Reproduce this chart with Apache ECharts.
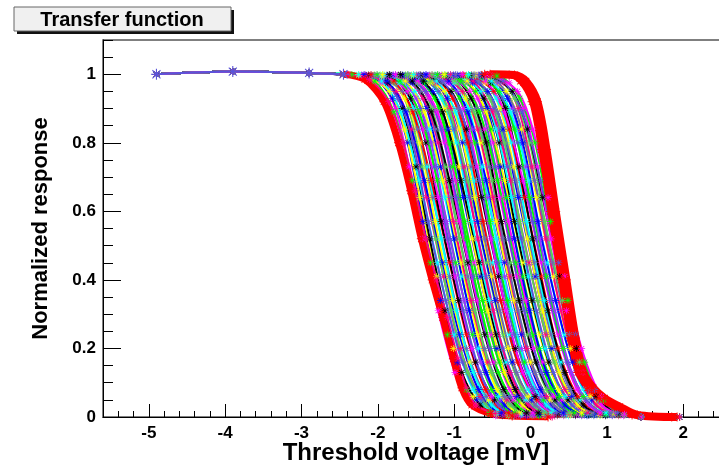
<!DOCTYPE html>
<html>
<head>
<meta charset="utf-8">
<title>Transfer function</title>
<script src="https://cdn.jsdelivr.net/npm/echarts@6/dist/echarts.min.js"></script>
<style>
  html, body { margin: 0; padding: 0; background: #fff; }
  #chart { width: 719px; height: 468px; }
</style>
</head>
<body>
<div id="chart"></div>
<script>
// tick labels
var xTicks = [-5, -4, -3, -2, -1, 0, 1, 2];
var yTicks = [0, 0.2, 0.4, 0.6, 0.8, 1];

// flat part of the scan (same for all channels)
var leadX = [-4.9, -3.9, -2.9, -2.45];
var leadY = [1.0, 1.008, 1.004, 1.0];
// zero tail of the scan
var tailX = [1.45, 1.95];
var tailY = [0, 0];

// response shapes around the 50% point (offsets in mV)
var shapeDxA = [-0.8, -0.55, -0.36, -0.18, 0, 0.2, 0.42, 0.66, 0.95];
var shapeYA = [0.998, 0.975, 0.9, 0.73, 0.52, 0.31, 0.13, 0.035, 0.004];
var shapeDxB = [-0.9, -0.5, -0.3, -0.1, 0.12, 0.34, 0.6, 0.9];
var shapeYB = [0.998, 0.95, 0.84, 0.64, 0.41, 0.2, 0.06, 0.008];
var shapeDxC = [-0.75, -0.45, -0.25, -0.05, 0.18, 0.4, 0.65, 0.92];
var shapeYC = [0.995, 0.93, 0.8, 0.57, 0.34, 0.16, 0.05, 0.006];
var shapeDxD = [-0.95, -0.65, -0.4, -0.16, 0.08, 0.3, 0.55, 0.85];
var shapeYD = [0.999, 0.98, 0.89, 0.69, 0.45, 0.24, 0.08, 0.012];

// 50% points of the channels [mV]
var midpoints = [
  -1.41, -1.39, -1.36, -1.35, -1.32, -1.30, -1.29, -1.26, -1.24, -1.23,
  -1.20, -1.18, -1.17, -1.14, -1.12, -1.11, -1.08, -1.06, -1.05, -1.02,
  -1.00, -0.99, -0.96, -0.94, -0.93, -0.90, -0.88, -0.87, -0.84, -0.82,
  -0.81, -0.78, -0.76, -0.75, -0.72, -0.70, -0.69, -0.66, -0.64, -0.63,
  -0.60, -0.58, -0.57, -0.54, -0.52, -0.51, -0.48, -0.46, -0.45, -0.42,
  -0.40, -0.39, -0.36, -0.34, -0.33, -0.30, -0.28, -0.27, -0.24, -0.22,
  -0.21, -0.18, -0.16, -0.15, -0.12, -0.10, -0.09, -0.06, -0.04, -0.03,
  0.00, 0.02, 0.03, 0.06, 0.08, 0.09, 0.12, 0.14, 0.15, 0.18,
  0.20, 0.21, 0.24, 0.26, 0.27, 0.29, 0.31, 0.33
];

// outermost channels (red envelopes), read point by point
var leftEdgeX = [-2.48, -2.2, -1.95, -1.76, -1.6, -1.46, -1.32, -1.18, -1.04, -0.93, -0.8, -0.55, -0.27, 0.2];
var leftEdgeY = [1.0, 0.985, 0.92, 0.8, 0.66, 0.52, 0.4, 0.29, 0.17, 0.085, 0.035, 0.01, 0.003, 0];
var rightEdgeX = [-0.5, -0.18, -0.03, 0.12, 0.24, 0.36, 0.5, 0.62, 0.72, 0.85, 1.0, 1.2, 1.43, 1.95];
var rightEdgeY = [1.0, 0.998, 0.98, 0.92, 0.78, 0.6, 0.4, 0.23, 0.13, 0.085, 0.055, 0.03, 0.006, 0];

var colors = ['#ff00ff', '#00ff00', '#0000ff', '#ffff00', '#000000', '#00ffff', '#5954d9',
  '#ff0080', '#59d454', '#0000ff', '#ffff00', '#6a6ab0', '#00ffff', '#ff0000', '#000000',
  '#ff00ff', '#5954d9', '#00ff00', '#9933ff', '#00ffff', '#0000ff', '#ffff00', '#ff0080',
  '#6a6ab0', '#59d454', '#000000', '#ff00ff', '#5954d9', '#00ff00'];

var asterisk = 'path://M0,9 L20,9 L20,11 L0,11 Z M9,0 L11,0 L11,20 L9,20 Z ' +
  'M2,3.4 L3.4,2 L18,16.6 L16.6,18 Z M16.6,2 L18,3.4 L3.4,18 L2,16.6 Z';

var FONT = 'Liberation Sans, Arial, Helvetica, sans-serif';
var shapes = [[shapeDxA, shapeYA], [shapeDxB, shapeYB], [shapeDxC, shapeYC], [shapeDxD, shapeYD]];

function curvePoints(mid, shape) {
  var dxs = shape[0], ys = shape[1];
  var pts = [];
  var first = mid + dxs[0];
  var last = mid + dxs[dxs.length - 1];
  leadX.forEach(function (x, i) {
    if (x < first - 0.2) pts.push([x, leadY[i]]);
  });
  dxs.forEach(function (dx, i) {
    pts.push([Math.round((mid + dx) * 1000) / 1000, ys[i]]);
  });
  tailX.forEach(function (x, i) {
    if (x > last + 0.2) pts.push([x, tailY[i]]);
  });
  return pts;
}

function makeSeries(points, color, width, size) {
  return {
    type: 'line',
    xAxisIndex: 0,
    yAxisIndex: 0,
    data: points,
    smooth: 0.3,
    symbol: asterisk,
    symbolSize: size,
    showSymbol: true,
    lineStyle: { color: color, width: width },
    itemStyle: { color: color },
    silent: true,
    animation: false
  };
}

function zip(xs, ys, shift) {
  return xs.map(function (x, i) { return [Math.round((x + shift) * 1000) / 1000, ys[i]]; });
}

var series = [];
midpoints.forEach(function (m, i) {
  var shape = shapes[(i * 3) % shapes.length];
  series.push(makeSeries(curvePoints(m, shape), colors[i % colors.length], 2, 7));
});
// red envelopes on top of the band
series.push(makeSeries(zip(rightEdgeX, rightEdgeY, -0.03), '#ff0000', 8, 9));
series.push(makeSeries(zip(rightEdgeX, rightEdgeY, -0.1), '#ff0000', 6, 9));
series.push(makeSeries(zip(leftEdgeX, leftEdgeY, 0.03), '#ff0000', 7, 9));
series.push(makeSeries(zip(leftEdgeX, leftEdgeY, 0.09), '#ff0080', 2, 7));
// common flat start of the scan, slate blue stars on top
series.push(makeSeries(zip(leadX, leadY, 0), '#5954d9', 2, 11));

var chart = echarts.init(document.getElementById('chart'), null, { renderer: 'canvas' });
chart.setOption({
  animation: false,
  backgroundColor: '#fff',
  grid: {
    left: 103, top: 40, width: 626, height: 377,
    outerBoundsMode: 'none', containLabel: false,
    show: true, borderColor: '#555', borderWidth: 1.5, backgroundColor: 'transparent'
  },
  xAxis: [{
    type: 'value', min: -5.6, max: 2.6,
    name: 'Threshold voltage [mV]', nameLocation: 'middle', nameGap: 24, nameMoveOverlap: false,
    nameTextStyle: { fontFamily: FONT, fontWeight: 'bold', fontSize: 24, color: '#000' },
    axisLine: { show: true, onZero: false, lineStyle: { color: '#000', width: 1 } },
    axisTick: { show: true, inside: true, length: 13, customValues: xTicks, lineStyle: { color: '#000' } },
    axisLabel: { show: true, customValues: xTicks, margin: 8, fontFamily: FONT, fontWeight: 'bold', fontSize: 17, color: '#000' },
    splitLine: { show: false }
  }, {
    type: 'value', min: -5.6, max: 2.6, interval: 0.2, position: 'bottom',
    axisLine: { show: false, onZero: false },
    axisTick: { show: true, inside: true, length: 6, lineStyle: { color: '#000' } },
    axisLabel: { show: false },
    splitLine: { show: false }
  }],
  yAxis: [{
    type: 'value', min: 0, max: 1.1,
    name: 'Normalized response', nameLocation: 'middle', nameGap: 51, nameRotate: 90, nameMoveOverlap: false,
    nameTextStyle: { fontFamily: FONT, fontWeight: 'bold', fontSize: 22, color: '#000' },
    axisLine: { show: true, onZero: false, lineStyle: { color: '#000', width: 1 } },
    axisTick: { show: true, inside: true, length: 18, customValues: yTicks, lineStyle: { color: '#000' } },
    axisLabel: { show: true, customValues: yTicks, margin: 7, fontFamily: FONT, fontWeight: 'bold', fontSize: 17, color: '#000' },
    splitLine: { show: false }
  }, {
    type: 'value', min: 0, max: 1.1, interval: 0.05, position: 'left',
    axisLine: { show: false, onZero: false },
    axisTick: { show: true, inside: true, length: 10, lineStyle: { color: '#000' } },
    axisLabel: { show: false },
    splitLine: { show: false }
  }],
  graphic: [
    { type: 'rect', shape: { x: 17, y: 10, width: 217, height: 24 }, style: { fill: '#111' } },
    { type: 'rect', shape: { x: 14, y: 7, width: 217, height: 24 }, style: { fill: '#f0f0f0', stroke: '#666', lineWidth: 1 } },
    { type: 'text', x: 122, y: 20, style: { text: 'Transfer function', fill: '#000', font: 'bold 20px ' + FONT, align: 'center', verticalAlign: 'middle' } }
  ],
  series: series
});
</script>
</body>
</html>
